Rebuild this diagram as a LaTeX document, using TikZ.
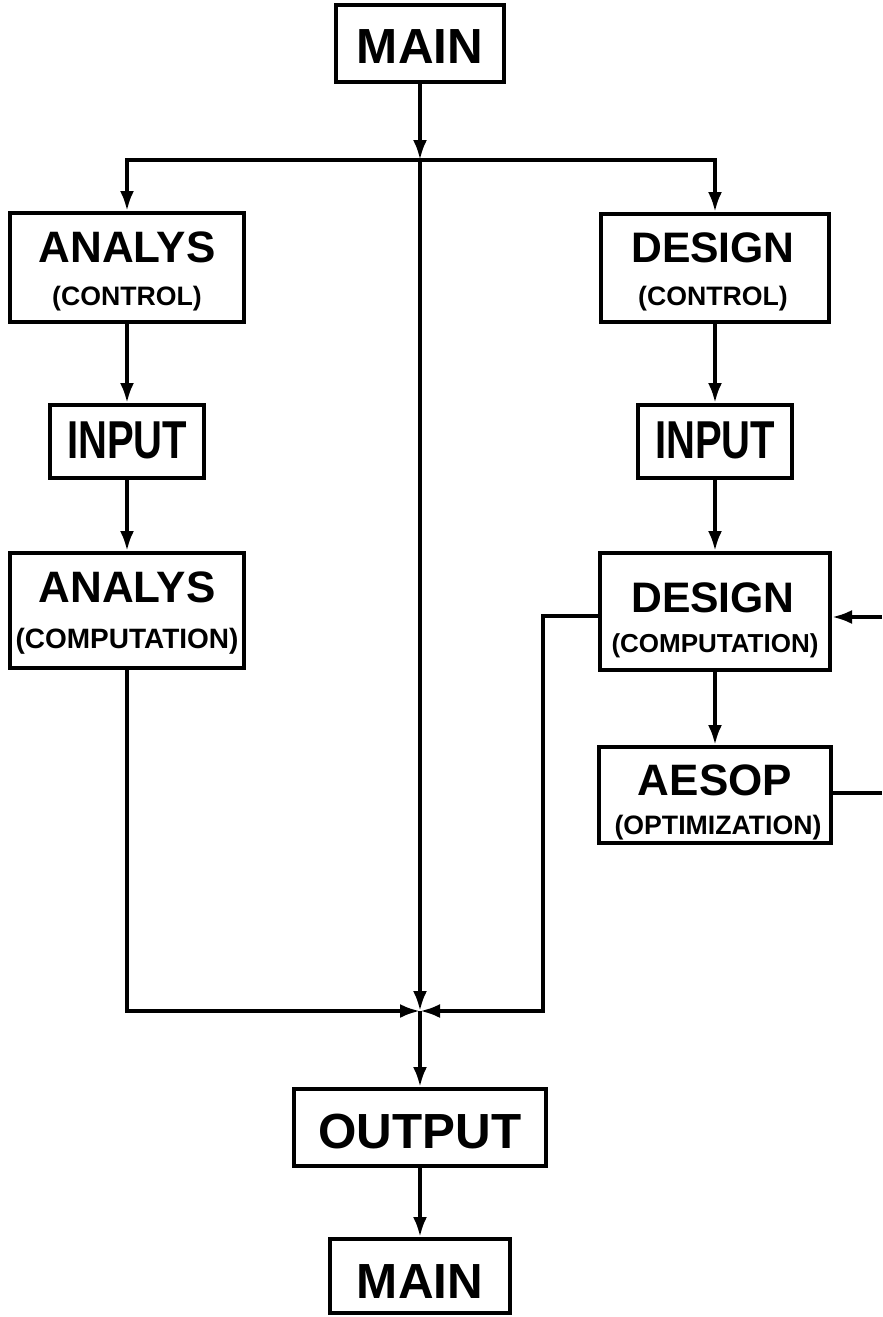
\documentclass[tikz,border=0pt]{standalone}
\usepackage{fontspec}
\setmainfont{Liberation Sans}
\usetikzlibrary{arrows.meta}
\newcommand\mybox[5]{\node[box, minimum width={(#4-#2)*0.75pt}, minimum height={(#5-#3)*0.75pt}] (#1) at ({(#2+#4)/2},{(#3+#5)/2}) {};}
\begin{document}
\begin{tikzpicture}[x=0.75pt,y=-0.75pt,
  box/.style={draw, line width=3pt, inner sep=0pt, rectangle},
  big/.style={font=\bfseries\fontsize{33}{33}\selectfont, inner sep=0pt, anchor=base},
  small/.style={font=\bfseries\fontsize{20}{20}\selectfont, inner sep=0pt, anchor=base},
  conn/.style={line width=2.8pt},
  arr/.style={conn, -{Latex[length=15pt,width=10.5pt]}}]
\useasboundingbox[fill=white] (0,0) rectangle (882,1317);
% boxes
\mybox{mt}{336}{5}{504}{82}
\mybox{ac}{10}{213}{244}{322}
\mybox{dc}{601}{214}{829}{322}
\mybox{ia}{50}{405}{204}{478}
\mybox{ir}{638}{405}{792}{478}
\mybox{acomp}{10}{553}{244}{668}
\mybox{dcomp}{600}{553}{830}{670}
\mybox{aesop}{599}{747}{831}{843}
\mybox{out}{294}{1089}{546}{1166}
\mybox{mb}{330}{1239}{510}{1313}
% texts
\node[big, font=\bfseries\fontsize{37}{37}\selectfont] (mtT) at (420,63) {MAIN};
\node[big] (acT1) at (127,262) {ANALYS};
\node[small] (acT2) at (127,305) {(CONTROL)};
\node[big, font=\bfseries\fontsize{32}{32}\selectfont] (dcT1) at (713,262) {DESIGN};
\node[small] (dcT2) at (713,305) {(CONTROL)};
\node[big, font=\bfseries\fontsize{40}{40}\selectfont] (iaT) at (127,458) {\scalebox{0.75}[1]{INPUT}};
\node[big, font=\bfseries\fontsize{40}{40}\selectfont] (irT) at (715,458) {\scalebox{0.75}[1]{INPUT}};
\node[big] (acompT1) at (127,602) {ANALYS};
\node[small, font=\bfseries\fontsize{21}{21}\selectfont] (acompT2) at (127,648) {(COMPUTATION)};
\node[big, font=\bfseries\fontsize{32}{32}\selectfont] (dcompT1) at (713,612) {DESIGN};
\node[small, font=\bfseries\fontsize{19.5}{19.5}\selectfont] (dcompT2) at (715,652) {(COMPUTATION)};
\node[big] (aesopT1) at (715,795) {AESOP};
\node[small] (aesopT2) at (718,834) {(OPTIMIZATION)};
\node[big, font=\bfseries\fontsize{37}{37}\selectfont] (outT) at (420,1148) {OUTPUT};
\node[big, font=\bfseries\fontsize{37}{37}\selectfont] (mbT) at (420,1298) {MAIN};
% coordinates
\coordinate (B) at (420,160);
\coordinate (J) at (420,1011);
\coordinate (dl) at (543,616);
\coordinate (fbtop) at (882,617);
\coordinate (fbbot) at (882,793);
% connectors
\draw[arr] (mt.south) -- (B);
\draw[arr] (B) -| (ac.north);
\draw[arr] (B) -| (dc.north);
\draw[arr] (B) -- (J);
\draw[arr] (ac.south) -- (ia.north);
\draw[arr] (ia.south) -- (acomp.north);
\draw[arr] (acomp.south) |- (J);
\draw[arr] (dc.south) -- (ir.north);
\draw[arr] (ir.south) -- (dcomp.north);
\draw[arr] (dcomp.south) -- (aesop.north);
\draw[arr] (dl -| dcomp.west) -- (dl) |- (J);
\draw[conn] (aesop.east |- fbbot) -- (fbbot);
\draw[arr] (fbtop) -- (fbtop -| dcomp.east);
\draw[arr] (J) -- (out.north);
\draw[arr] (out.south) -- (mb.north);
\end{tikzpicture}
\end{document}
